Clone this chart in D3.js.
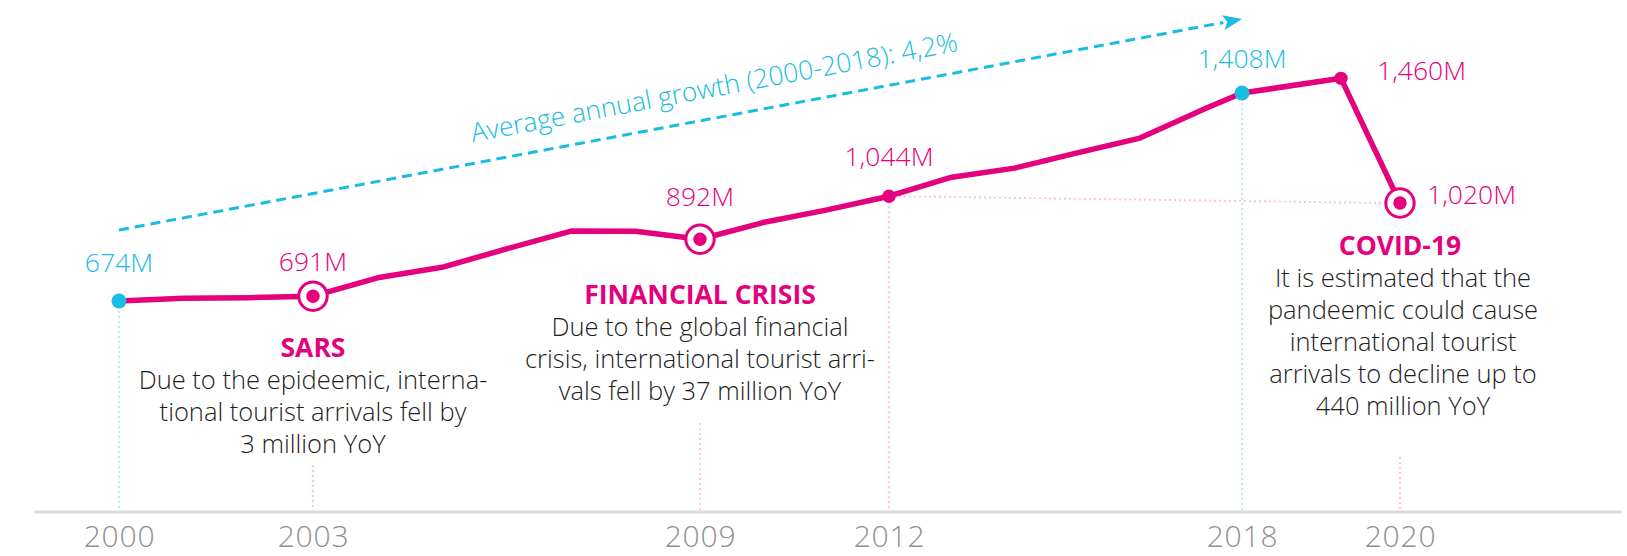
<!DOCTYPE html>
<html>
<head>
<meta charset="utf-8">
<script src="https://cdn.jsdelivr.net/npm/d3@7"></script>
<style>
  body { margin: 0; background: #fff; }
  svg { display: block; font-family: "Open Sans", sans-serif; }
</style>
</head>
<body>
<svg id="chart" width="1627" height="556"></svg>
<script>
// international tourist arrivals, millions
const years = [2000, 2001, 2002, 2003, 2004, 2005, 2006, 2007, 2008, 2009, 2010,
               2011, 2012, 2013, 2014, 2015, 2016, 2017, 2018, 2019, 2020];
const arrivals = [674, 684, 686, 691, 756, 793, 858, 921, 920, 892, 951,
                  995, 1044, 1111, 1143, 1197, 1249, 1354, 1408, 1460, 1020];

const tickYears = [2000, 2003, 2009, 2012, 2018, 2020];

const labelYears = [2000, 2003, 2009, 2012, 2018, 2019, 2020];
const labelTexts = ["674M", "691M", "892M", "1,044M", "1,408M", "1,460M", "1,020M"];

const growthText = "Average annual growth (2000-2018): 4,2%";

const eventYears = [2003, 2009, 2020];
const eventTitles = ["SARS", "FINANCIAL CRISIS", "COVID-19"];
const eventLines = [
    ["Due to the epideemic, interna-", "tional tourist arrivals fell by", "3 million YoY"],
    ["Due to the global financial", "crisis, international tourist arri-", "vals fell by 37 million YoY"],
    ["It is estimated that the", "pandeemic could cause", "international tourist",
     "arrivals to decline up to", "440 million YoY"]
];

const pink = "#e5007d";
const cyan = "#19bde0";
const lightPink = "#f8c8da";
const lightCyan = "#bfe9f6";

const axisY = 512;

const data = years.map((y, i) => ({year: y, value: arrivals[i]}));
const valueOf = yr => arrivals[years.indexOf(yr)];

// the original spaces the years unevenly, so a piecewise scale
const x = d3.scaleLinear()
    .domain([2000, 2003, 2009, 2012, 2016, 2017, 2018, 2019, 2020])
    .range([119, 313, 700, 889, 1140, 1206, 1242, 1341, 1400]);

const y = d3.scaleLinear()
    .domain([0, 1500])
    .range([492, 67]);

const svg = d3.select("#chart");

// baseline
svg.append("line")
    .attr("x1", 34).attr("x2", 1622)
    .attr("y1", axisY).attr("y2", axisY)
    .attr("stroke", "#dcdcdc")
    .attr("stroke-width", 3);

// layout for markers / labels / guides (not data)
const markStyle = {
    2000: {kind: "dot", color: cyan, guide: lightCyan, guideFrom: null, dx: 0, dy: -29, anchor: "middle"},
    2003: {kind: "ring", color: pink, guide: lightPink, guideFrom: 465, dx: 0, dy: -25, anchor: "middle"},
    2009: {kind: "ring", color: pink, guide: lightPink, guideFrom: 423, dx: 0, dy: -33, anchor: "middle"},
    2012: {kind: "dot", color: pink, guide: lightPink, guideFrom: null, dx: 0, dy: -30, anchor: "middle"},
    2018: {kind: "dot", color: cyan, guide: lightCyan, guideFrom: null, dx: 0, dy: -25, anchor: "middle"},
    2019: {kind: "dot", color: pink, guide: null, dx: 36, dy: 2, anchor: "start"},
    2020: {kind: "ring", color: pink, guide: lightPink, guideFrom: 457, dx: 27, dy: 1, anchor: "start"}
};

// dotted guides down to the baseline
const guides = svg.append("g");
labelYears.forEach(yr => {
    const s = markStyle[yr];
    if (!s.guide) return;
    guides.append("line")
        .attr("x1", x(yr)).attr("x2", x(yr))
        .attr("y1", s.guideFrom === null ? y(valueOf(yr)) : s.guideFrom)
        .attr("y2", axisY - 2)
        .attr("stroke", s.guide)
        .attr("stroke-width", 2)
        .attr("stroke-dasharray", "2,3");
});

// horizontal guide 2012 -> 2020
guides.append("line")
    .attr("x1", x(2012)).attr("y1", y(valueOf(2012)))
    .attr("x2", x(2020) - 16).attr("y2", y(valueOf(2020)))
    .attr("stroke", lightPink)
    .attr("stroke-width", 2)
    .attr("stroke-dasharray", "2,3");

// growth arrow
const a0 = [x(2000), 230], a1 = [x(2018), 19];
const ang = Math.atan2(a1[1] - a0[1], a1[0] - a0[0]);
const headLen = 19, headW = 7.5;
const lineEnd = [a1[0] - headLen * Math.cos(ang), a1[1] - headLen * Math.sin(ang)];
svg.append("line")
    .attr("x1", a0[0]).attr("y1", a0[1])
    .attr("x2", lineEnd[0]).attr("y2", lineEnd[1])
    .attr("stroke", cyan)
    .attr("stroke-width", 3)
    .attr("stroke-dasharray", "10,6");
svg.append("path")
    .attr("d", `M0,0L${-headLen},${-headW}L${-headLen + 4},0L${-headLen},${headW}Z`)
    .attr("transform", `translate(${a1[0]},${a1[1]}) rotate(${ang * 180 / Math.PI})`)
    .attr("fill", cyan);

const mid = 0.535;
svg.append("text")
    .attr("transform", `translate(${a0[0] + (a1[0] - a0[0]) * mid},${a0[1] + (a1[1] - a0[1]) * mid}) rotate(${ang * 180 / Math.PI})`)
    .attr("y", -21)
    .attr("text-anchor", "middle")
    .attr("font-size", 26.5)
    .attr("font-weight", 300)
    .attr("fill", cyan)
    .text(growthText);

// main line
svg.append("path")
    .datum(data)
    .attr("fill", "none")
    .attr("stroke", pink)
    .attr("stroke-width", 5.5)
    .attr("stroke-linejoin", "round")
    .attr("d", d3.line().x(d => x(d.year)).y(d => y(d.value)));

// markers
const marks = svg.append("g");
labelYears.forEach(yr => {
    const s = markStyle[yr];
    const cx = x(yr), cy = y(valueOf(yr));
    if (s.kind === "ring") {
        marks.append("circle")
            .attr("cx", cx).attr("cy", cy).attr("r", 14.2)
            .attr("fill", "#fff").attr("stroke", s.color).attr("stroke-width", 3);
        marks.append("circle")
            .attr("cx", cx).attr("cy", cy).attr("r", 6.7)
            .attr("fill", s.color);
    } else {
        marks.append("circle")
            .attr("cx", cx).attr("cy", cy).attr("r", s.color === cyan ? 7.5 : 6.7)
            .attr("fill", s.color);
    }
});

// value labels
svg.append("g")
    .selectAll("text")
    .data(labelYears)
    .join("text")
    .attr("x", d => x(d) + markStyle[d].dx)
    .attr("y", d => y(valueOf(d)) + markStyle[d].dy)
    .attr("text-anchor", d => markStyle[d].anchor)
    .attr("font-size", 26.5)
    .attr("font-weight", 300)
    .attr("fill", d => markStyle[d].color)
    .text((d, i) => labelTexts[i]);

// event notes
const eventTop = {2003: 357, 2009: 304, 2020: 255};
const lineH = 32;
eventYears.forEach((yr, i) => {
    const g = svg.append("g").attr("text-anchor", "middle");
    g.append("text")
        .attr("x", x(yr)).attr("y", eventTop[yr])
        .attr("font-size", 26.5)
        .attr("font-weight", 700)
        .attr("fill", pink)
        .text(eventTitles[i]);
    g.selectAll("text.body")
        .data(eventLines[i])
        .join("text")
        .attr("class", "body")
        .attr("x", x(yr) + (yr === 2020 ? 3 : 0))
        .attr("y", (d, j) => eventTop[yr] + lineH * (j + 1))
        .attr("font-size", 25.5)
        .attr("font-weight", 300)
        .attr("fill", "#1e1e1e")
        .text(d => d);
});

// year axis
svg.append("g")
    .attr("transform", `translate(0,${axisY})`)
    .call(d3.axisBottom(x).tickValues(tickYears).tickFormat(d3.format("d")).tickSize(0).tickPadding(14))
    .call(g => g.select(".domain").remove())
    .call(g => g.selectAll("text")
        .attr("font-family", "Open Sans, sans-serif")
        .attr("font-size", 30)
        .attr("font-weight", 300)
        .attr("letter-spacing", 0.8)
        .attr("fill", "#8f8f8f"));
</script>
</body>
</html>
